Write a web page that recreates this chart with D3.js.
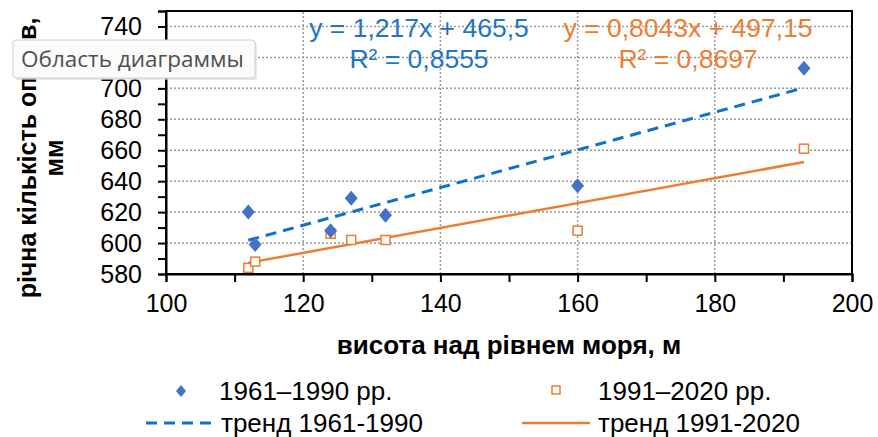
<!DOCTYPE html>
<html><head><meta charset="utf-8">
<script src="https://cdn.jsdelivr.net/npm/d3@7"></script>
<style>body{margin:0;background:#fff}svg{display:block}</style>
</head><body>
<script>
const elevation = [112, 113, 124, 127, 132, 160, 193];
const precip1961 = [620, 599, 608, 629, 618, 637, 713];
const precip1991 = [584, 588, 606, 602, 602, 608, 661];
const trend1961 = {slope: 1.217, intercept: 465.5};
const trend1991 = {slope: 0.8043, intercept: 497.15};
const eqText1961 = ["y = 1,217x + 465,5", "R² = 0,8555"];
const eqText1991 = ["y = 0,8043x + 497,15", "R² = 0,8697"];
const xTicks = [100, 120, 140, 160, 180, 200];
const yTicks = [580, 600, 620, 640, 660, 680, 700, 720, 740];
const legendLabels = ["1961–1990 рр.", "1991–2020 рр.", "тренд 1961-1990", "тренд 1991-2020"];
const xTitle = "висота над рівнем моря, м";
const yTitle = ["річна кількість опадів,", "мм"];

const W = 878, H = 437;
const FONT = "'Liberation Sans', Arial, sans-serif";
const blue = "#4472C4", blueLine = "#0F72C8", orange = "#ED7D31";

const svg = d3.select("body").append("svg").attr("width", W).attr("height", H)
  .style("font-family", FONT);

const x = d3.scaleLinear().domain([100, 200]).range([166, 852]);
const y = d3.scaleLinear().domain([580, 750]).range([274, 11]);

// gridlines
const g = svg.append("g");
g.selectAll(".hg").data(yTicks.filter(v => v > 580)).join("line")
  .attr("x1", x(100)).attr("x2", x(200)).attr("y1", d => y(d)).attr("y2", d => y(d))
  .attr("stroke", "#9a9a9a").attr("stroke-width", 1.5).attr("stroke-dasharray", "2,2");
g.selectAll(".vg").data(xTicks.filter(v => v > 100 && v < 200)).join("line")
  .attr("y1", y(580)).attr("y2", y(750)).attr("x1", d => x(d)).attr("x2", d => x(d))
  .attr("stroke", "#9a9a9a").attr("stroke-width", 1.5).attr("stroke-dasharray", "2,2");

// border
svg.append("rect").attr("x", x(100)).attr("y", y(750)).attr("width", x(200) - x(100))
  .attr("height", y(580) - y(750)).attr("fill", "none").attr("stroke", "#000").attr("stroke-width", 2);

// axes
const xAxis = d3.axisBottom(x).tickValues(d3.range(100, 201, 10)).tickSize(8)
  .tickFormat(d => xTicks.includes(d) ? d : "");
const gx = svg.append("g").attr("transform", `translate(0,${y(580)})`).call(xAxis);
gx.select(".domain").attr("stroke-width", 2);
gx.selectAll(".tick line").attr("stroke-width", 2);
gx.selectAll("text").attr("font-size", 25).attr("fill", "#000").attr("dy", "0.71em").attr("y", 20)
  .style("font-family", FONT);

const yAxis = d3.axisLeft(y).tickValues(d3.range(580, 751, 10)).tickSize(8)
  .tickFormat(d => yTicks.includes(d) ? d : "");
const gy = svg.append("g").attr("transform", `translate(${x(100)},0)`).call(yAxis);
gy.select(".domain").attr("stroke-width", 2);
gy.selectAll(".tick line").attr("stroke-width", 2);
gy.selectAll("text").attr("font-size", 25).attr("fill", "#000").attr("x", -24)
  .style("font-family", FONT);

// trend lines
const ext = d3.extent(elevation);
function trendPts(t) { return ext.map(e => [x(e), y(t.slope * e + t.intercept)]); }
const line = d3.line();
svg.append("path").attr("d", line(trendPts(trend1961))).attr("stroke", blueLine)
  .attr("stroke-width", 3).attr("stroke-dasharray", "11,7").attr("fill", "none");
svg.append("path").attr("d", line(trendPts(trend1991))).attr("stroke", orange)
  .attr("stroke-width", 2.5).attr("fill", "none");

// points
const diamond = "M0,-7.5L6.5,0L0,7.5L-6.5,0Z";
svg.selectAll(".sq").data(elevation.map((e, i) => [e, precip1991[i]])).join("rect")
  .attr("x", d => x(d[0]) - 4.5).attr("y", d => y(d[1]) - 4.5).attr("width", 9).attr("height", 9)
  .attr("fill", "#fff").attr("stroke", orange).attr("stroke-width", 1.5);
svg.selectAll(".dm").data(elevation.map((e, i) => [e, precip1961[i]])).join("path")
  .attr("d", diamond).attr("transform", d => `translate(${x(d[0])},${y(d[1])})`).attr("fill", blue);

// equations
function eq(lines, cx, color) {
  const t = svg.append("text").attr("text-anchor", "middle").attr("fill", color).attr("font-size", 26.5);
  t.selectAll("tspan").data(lines).join("tspan").attr("x", cx).attr("y", (d, i) => 37 + i * 31).text(d => d);
}
eq(eqText1961, 419, "#1F74C6");
eq(eqText1991, 688, orange);

// axis titles
svg.append("text").attr("x", 509).attr("y", 354).attr("text-anchor", "middle")
  .attr("font-size", 26).attr("font-weight", "bold").text(xTitle);
const yt = svg.append("text").attr("transform", "translate(0,158) rotate(-90)")
  .attr("text-anchor", "middle").attr("font-size", 25).attr("font-weight", "bold");
yt.selectAll("tspan").data(yTitle).join("tspan").attr("x", 0).attr("y", (d, i) => 36 + i * 27).text(d => d);

// legend
const lg = svg.append("g").attr("font-size", 26).attr("fill", "#000");
lg.append("path").attr("d", "M0,-6L5,0L0,6L-5,0Z").attr("transform", "translate(181,391)").attr("fill", blue);
lg.append("text").attr("x", 219).attr("y", 400).text(legendLabels[0]);
lg.append("rect").attr("x", 552).attr("y", 386).attr("width", 8).attr("height", 8)
  .attr("fill", "#fff").attr("stroke", orange).attr("stroke-width", 1.5);
lg.append("text").attr("x", 598).attr("y", 400).text(legendLabels[1]);
lg.append("line").attr("x1", 146).attr("x2", 214).attr("y1", 423).attr("y2", 423)
  .attr("stroke", blueLine).attr("stroke-width", 3).attr("stroke-dasharray", "11,7");
lg.append("text").attr("x", 221).attr("y", 432).text(legendLabels[2]);
lg.append("line").attr("x1", 522).attr("x2", 590).attr("y1", 423).attr("y2", 423)
  .attr("stroke", orange).attr("stroke-width", 2.5);
lg.append("text").attr("x", 598).attr("y", 432).text(legendLabels[3]);

// tooltip overlay (present in reference screenshot)
const tip = svg.append("g");
tip.append("rect").attr("x", 15).attr("y", 42).attr("width", 242).attr("height", 38).attr("rx", 3)
  .attr("fill", "#d8d8d8").attr("opacity", 0.6);
tip.append("rect").attr("x", 13).attr("y", 40).attr("width", 242).attr("height", 38).attr("rx", 3)
  .attr("fill", "#fbfbfb").attr("stroke", "#cfcfcf");
tip.append("text").attr("x", 21).attr("y", 67).attr("font-size", 22.5).attr("fill", "#505050")
  .style("font-family", "'Open Sans', 'Noto Sans', sans-serif").text("Область диаграммы");
</script>
</body></html>
